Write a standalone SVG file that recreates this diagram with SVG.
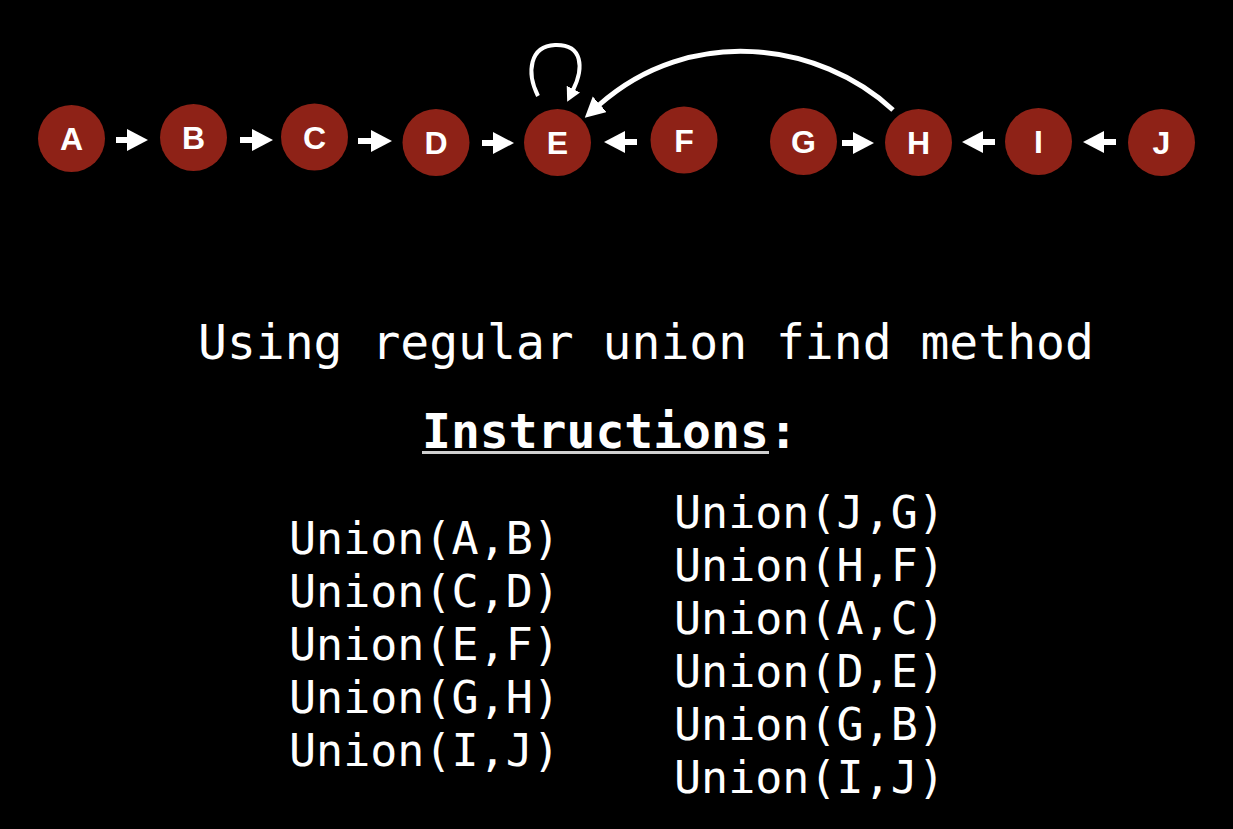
<svg xmlns="http://www.w3.org/2000/svg" width="1233" height="829" viewBox="0 0 1233 829">
<style>
.node circle{fill:#8e2217}
.node text{font-family:"Liberation Sans",Arial,sans-serif;font-weight:bold;font-size:32px;fill:#fff;text-anchor:middle}
.mono{font-family:"DejaVu Sans Mono","Liberation Mono",monospace;fill:#fff}
.edge{stroke:#fff;fill:none}
</style>
<defs>
<marker id="head" markerUnits="userSpaceOnUse" markerWidth="22" markerHeight="24" refX="0" refY="11" orient="auto">
<path d="M0,0 L21,11 L0,22 z" fill="#fff"/>
</marker>
<marker id="bigHead" markerUnits="userSpaceOnUse" markerWidth="22" markerHeight="24" refX="1" refY="10.5" orient="auto">
<path d="M0,0 L20,10.5 L0,21 z" fill="#fff"/>
</marker>
<marker id="loopHead" markerUnits="userSpaceOnUse" markerWidth="16" markerHeight="16" refX="1" refY="7.5" orient="auto">
<path d="M0,0 L14,7.5 L0,15 z" fill="#fff"/>
</marker>
</defs>
<rect width="1233" height="829" fill="#000"/>
<g id="connectors">
<line class="edge" stroke-width="6" x1="116" y1="140" x2="127" y2="140" marker-end="url(#head)"/>
<line class="edge" stroke-width="6" x1="240" y1="140" x2="252" y2="140" marker-end="url(#head)"/>
<line class="edge" stroke-width="6" x1="358" y1="141" x2="371" y2="141" marker-end="url(#head)"/>
<line class="edge" stroke-width="6" x1="482" y1="143" x2="493" y2="143" marker-end="url(#head)"/>
<line class="edge" stroke-width="6" x1="637" y1="142" x2="625" y2="142" marker-end="url(#head)"/>
<line class="edge" stroke-width="6" x1="842" y1="143" x2="853" y2="143" marker-end="url(#head)"/>
<line class="edge" stroke-width="6" x1="995" y1="142" x2="983" y2="142" marker-end="url(#head)"/>
<line class="edge" stroke-width="6" x1="1116" y1="142" x2="1104" y2="142" marker-end="url(#head)"/>
<path class="edge" stroke-width="4" d="M538,96 C526,72 530,46 555,45 C583,44 584,68 573,90" marker-end="url(#loopHead)"/>
<path class="edge" stroke-width="5" d="M893,110 C820,42 690,24 599,105" marker-end="url(#bigHead)"/>
</g>
<g id="node-A" class="node"><circle cx="71.5" cy="138.5" r="33.5"/><text x="71.5" y="150">A</text></g>
<g id="node-B" class="node"><circle cx="193.5" cy="137.5" r="33.5"/><text x="193.5" y="149">B</text></g>
<g id="node-C" class="node"><circle cx="314.5" cy="137" r="33.5"/><text x="314.5" y="148.5">C</text></g>
<g id="node-D" class="node"><circle cx="436" cy="142.5" r="33.5"/><text x="436" y="154">D</text></g>
<g id="node-E" class="node"><circle cx="557.5" cy="142.5" r="33.5"/><text x="557.5" y="154">E</text></g>
<g id="node-F" class="node"><circle cx="684" cy="140" r="33.5"/><text x="684" y="151.5">F</text></g>
<g id="node-G" class="node"><circle cx="803.5" cy="141.5" r="33.5"/><text x="803.5" y="153">G</text></g>
<g id="node-H" class="node"><circle cx="918.5" cy="142.5" r="33.5"/><text x="918.5" y="154">H</text></g>
<g id="node-I" class="node"><circle cx="1038.5" cy="141.5" r="33.5"/><text x="1038.5" y="153">I</text></g>
<g id="node-J" class="node"><circle cx="1161.5" cy="142.5" r="33.5"/><text x="1161.5" y="154">J</text></g>
<g id="texts">
<text class="mono" x="198" y="359" font-size="48">Using regular union find method</text>
<text class="mono" x="422" y="448" font-size="48" font-weight="bold">Instructions:</text>
<line x1="422" y1="452.5" x2="769" y2="452.5" stroke="#d0d0d0" stroke-width="3"/>
<g class="mono" font-size="45">
<text x="289" y="554">Union(A,B)</text>
<text x="289" y="607">Union(C,D)</text>
<text x="289" y="660">Union(E,F)</text>
<text x="289" y="713">Union(G,H)</text>
<text x="289" y="766">Union(I,J)</text>
<text x="674" y="528">Union(J,G)</text>
<text x="674" y="581">Union(H,F)</text>
<text x="674" y="634">Union(A,C)</text>
<text x="674" y="687">Union(D,E)</text>
<text x="674" y="740">Union(G,B)</text>
<text x="674" y="793">Union(I,J)</text>
</g>
</g>
</svg>
